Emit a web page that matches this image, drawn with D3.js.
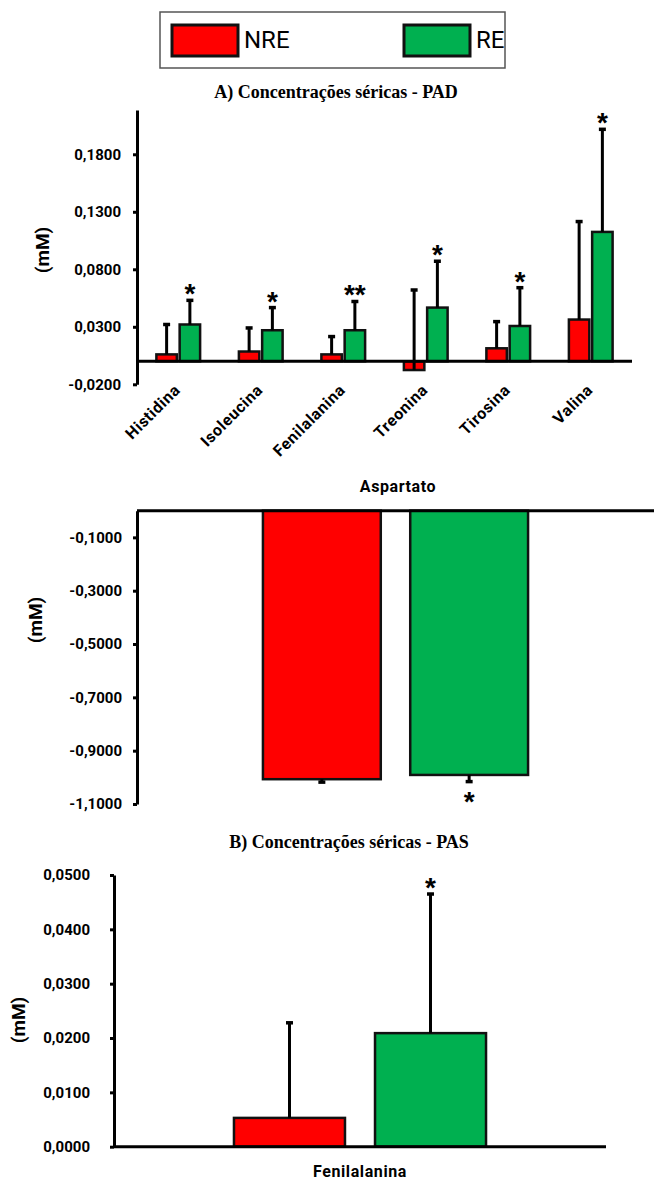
<!DOCTYPE html>
<html>
<head>
<meta charset="utf-8">
<script src="https://cdn.jsdelivr.net/npm/d3@7"></script>
<style>
  body { margin: 0; background: #fff; }
  text { font-family: Roboto, "DejaVu Sans", sans-serif; }
</style>
</head>
<body>
<div id="viz"></div>
<script>
// groups (legend)
var groups = ["NRE", "RE"];
var colors = ["#ff0000", "#00b050"];

// A) PAD - six amino acids
var catsA = ["Histidina", "Isoleucina", "Fenilalanina", "Treonina", "Tirosina", "Valina"];
var nreA = [0.0060, 0.0085, 0.0060, -0.0076, 0.0113, 0.0363];
var nreErrA = [0.0260, 0.0205, 0.0155, 0.0696, 0.0232, 0.0852];
var reA = [0.0320, 0.0270, 0.0270, 0.0467, 0.0307, 0.1125];
var reErrA = [0.0210, 0.0197, 0.0250, 0.0403, 0.0333, 0.0892];
var sigA = ["*", "*", "**", "*", "*", "*"];
var ticksA = [-0.02, 0.03, 0.08, 0.13, 0.18];

// Aspartato (negative values, error bars go down)
var catsAsp = ["Aspartato"];
var nreAsp = [-1.007];
var nreErrAsp = [-0.011];
var reAsp = [-0.991];
var reErrAsp = [-0.025];
var sigAsp = ["*"];
var ticksAsp = [-0.1, -0.3, -0.5, -0.7, -0.9, -1.1];

// B) PAS - Fenilalanina
var catsB = ["Fenilalanina"];
var nreB = [0.0053];
var nreErrB = [0.0175];
var reB = [0.0209];
var reErrB = [0.0256];
var sigB = ["*"];
var ticksB = [0, 0.01, 0.02, 0.03, 0.04, 0.05];

var fmt = d3.formatLocale({decimal: ",", thousands: ".", grouping: [3], currency: ["", ""], minus: "-"}).format(".4f");

var svg = d3.select("#viz")
  .append("svg")
  .attr("width", 654)
  .attr("height", 1180);

// legend
var leg = svg.append("g");
leg.append("rect")
  .attr("x", 160).attr("y", 12).attr("width", 345).attr("height", 56)
  .attr("fill", "#fff").attr("stroke", "#555").attr("stroke-width", 1.5);
var legX = [172, 404];
groups.forEach(function(gname, i) {
  leg.append("rect")
    .attr("x", legX[i]).attr("y", 25).attr("width", 66).attr("height", 31)
    .attr("fill", colors[i]).attr("stroke", "#111").attr("stroke-width", 3);
  leg.append("text")
    .attr("x", legX[i] + 72).attr("y", 48)
    .style("font-size", "24px")
    .text(gname);
});

function drawChart(o) {
  var g = svg.append("g");
  var x0 = d3.scaleBand().domain(o.cats).range(o.xr)
    .paddingInner(o.pIn).paddingOuter(o.pOut);
  var x1 = d3.scaleBand().domain(groups).range([0, x0.bandwidth()])
    .paddingInner(o.pSub);
  var y = d3.scaleLinear().domain(o.yd).range(o.yr);

  var rows = [];
  o.cats.forEach(function(c, i) {
    groups.forEach(function(k, j) {
      rows.push({cat: c, key: k, j: j, v: o.vals[j][i], e: o.errs[j][i], s: j == 1 ? o.sig[i] : ""});
    });
  });

  // bars
  g.selectAll(".bar").data(rows).enter().append("rect")
    .attr("x", function(d) { return x0(d.cat) + x1(d.key); })
    .attr("y", function(d) { return y(Math.max(d.v, 0)); })
    .attr("width", x1.bandwidth())
    .attr("height", function(d) { return Math.abs(y(d.v) - y(0)); })
    .attr("fill", function(d) { return colors[d.j]; })
    .attr("stroke", "#111").attr("stroke-width", 2.5);

  var cx = function(d) { return x0(d.cat) + x1(d.key) + x1.bandwidth() / 2; };

  // error bars
  g.selectAll(".err").data(rows).enter().append("line")
    .attr("x1", cx).attr("x2", cx)
    .attr("y1", function(d) { return y(d.v); })
    .attr("y2", function(d) { return y(d.v + d.e); })
    .attr("stroke", "#000").attr("stroke-width", 3);
  g.selectAll(".cap").data(rows).enter().append("line")
    .attr("x1", function(d) { return cx(d) - 3.5; })
    .attr("x2", function(d) { return cx(d) + 3.5; })
    .attr("y1", function(d) { return y(d.v + d.e); })
    .attr("y2", function(d) { return y(d.v + d.e); })
    .attr("stroke", "#000").attr("stroke-width", 3.5);

  // significance stars
  g.selectAll(".sig").data(rows.filter(function(d) { return d.s; })).enter().append("text")
    .attr("x", cx)
    .attr("y", function(d) { return d.e >= 0 ? y(d.v + d.e) + 3 : y(d.v + d.e) + 29; })
    .attr("text-anchor", "middle")
    .style("font-family", "'Liberation Sans', Arial, sans-serif")
    .style("font-weight", "bold")
    .style("font-size", "28px")
    .text(function(d) { return d.s; });

  // zero line
  g.append("line")
    .attr("x1", o.xr[0]).attr("x2", o.xr[1])
    .attr("y1", y(0)).attr("y2", y(0))
    .attr("stroke", "#000").attr("stroke-width", 3);

  // y axis
  var ax = g.append("g")
    .attr("transform", "translate(" + o.xr[0] + ",0)")
    .call(d3.axisLeft(y).tickValues(o.ticks).tickFormat(fmt)
      .tickSize(4).tickPadding(o.pad).tickSizeOuter(0));
  ax.select(".domain").attr("stroke", "#000").attr("stroke-width", 3);
  ax.selectAll(".tick line").attr("stroke", "#000").attr("stroke-width", 3);
  ax.selectAll(".tick text")
    .style("font-family", "Roboto, sans-serif")
    .style("font-weight", "bold").style("font-size", "15px").attr("fill", "#000");

  // y title
  g.append("text")
    .attr("transform", "translate(" + o.yTitle[0] + "," + o.yTitle[1] + ") rotate(-90)")
    .attr("text-anchor", "middle").attr("dominant-baseline", "central")
    .style("font-weight", "bold").style("font-size", "19px")
    .text("(mM)");

  return {g: g, x0: x0, y: y};
}

function title(t, x, y) {
  svg.append("text")
    .attr("x", x).attr("y", y)
    .attr("text-anchor", "middle")
    .style("font-family", "'Liberation Serif', 'Times New Roman', serif")
    .style("font-weight", "bold").style("font-size", "18px")
    .text(t);
}

function catLabel(t, x, y) {
  svg.append("text")
    .attr("x", x).attr("y", y)
    .attr("text-anchor", "middle")
    .style("font-weight", "bold").style("font-size", "16px")
    .style("letter-spacing", "0.6px")
    .text(t);
}

// A) PAD
title("A) Concentrações séricas - PAD", 336, 98);
var cA = drawChart({
  cats: catsA, vals: [nreA, reA], errs: [nreErrA, reErrA], sig: sigA,
  xr: [137, 632], pIn: 0.47, pOut: 0.235, pSub: 0.12,
  yd: [-0.02, 0.2185], yr: [384.3, 110], ticks: ticksA, pad: 12,
  yTitle: [42, 250]
});
svg.append("g").selectAll("text").data(catsA).enter().append("text")
  .attr("transform", function(d) {
    return "translate(" + (cA.x0(d) + cA.x0.bandwidth() / 2 + 3) + ",391) rotate(-45)";
  })
  .attr("text-anchor", "end")
  .style("font-weight", "bold").style("font-size", "16px")
  .style("letter-spacing", "0.6px")
  .text(function(d) { return d; });

// Aspartato
catLabel(catsAsp[0], 398, 492);
drawChart({
  cats: catsAsp, vals: [nreAsp, reAsp], errs: [nreErrAsp, reErrAsp], sig: sigAsp,
  xr: [137, 654], pIn: 0, pOut: 0.475, pSub: 0.2,
  yd: [-1.1, 0], yr: [804, 510.7], ticks: ticksAsp, pad: 11,
  yTitle: [35, 620]
});

// B) PAS
title("B) Concentrações séricas - PAS", 349, 848);
drawChart({
  cats: catsB, vals: [nreB, reB], errs: [nreErrB, reErrB], sig: sigB,
  xr: [114, 606], pIn: 0, pOut: 0.476, pSub: 0.213,
  yd: [0, 0.05], yr: [1146.7, 875], ticks: ticksB, pad: 20,
  yTitle: [18, 1020]
});
catLabel(catsB[0], 360, 1177);
</script>
</body>
</html>
